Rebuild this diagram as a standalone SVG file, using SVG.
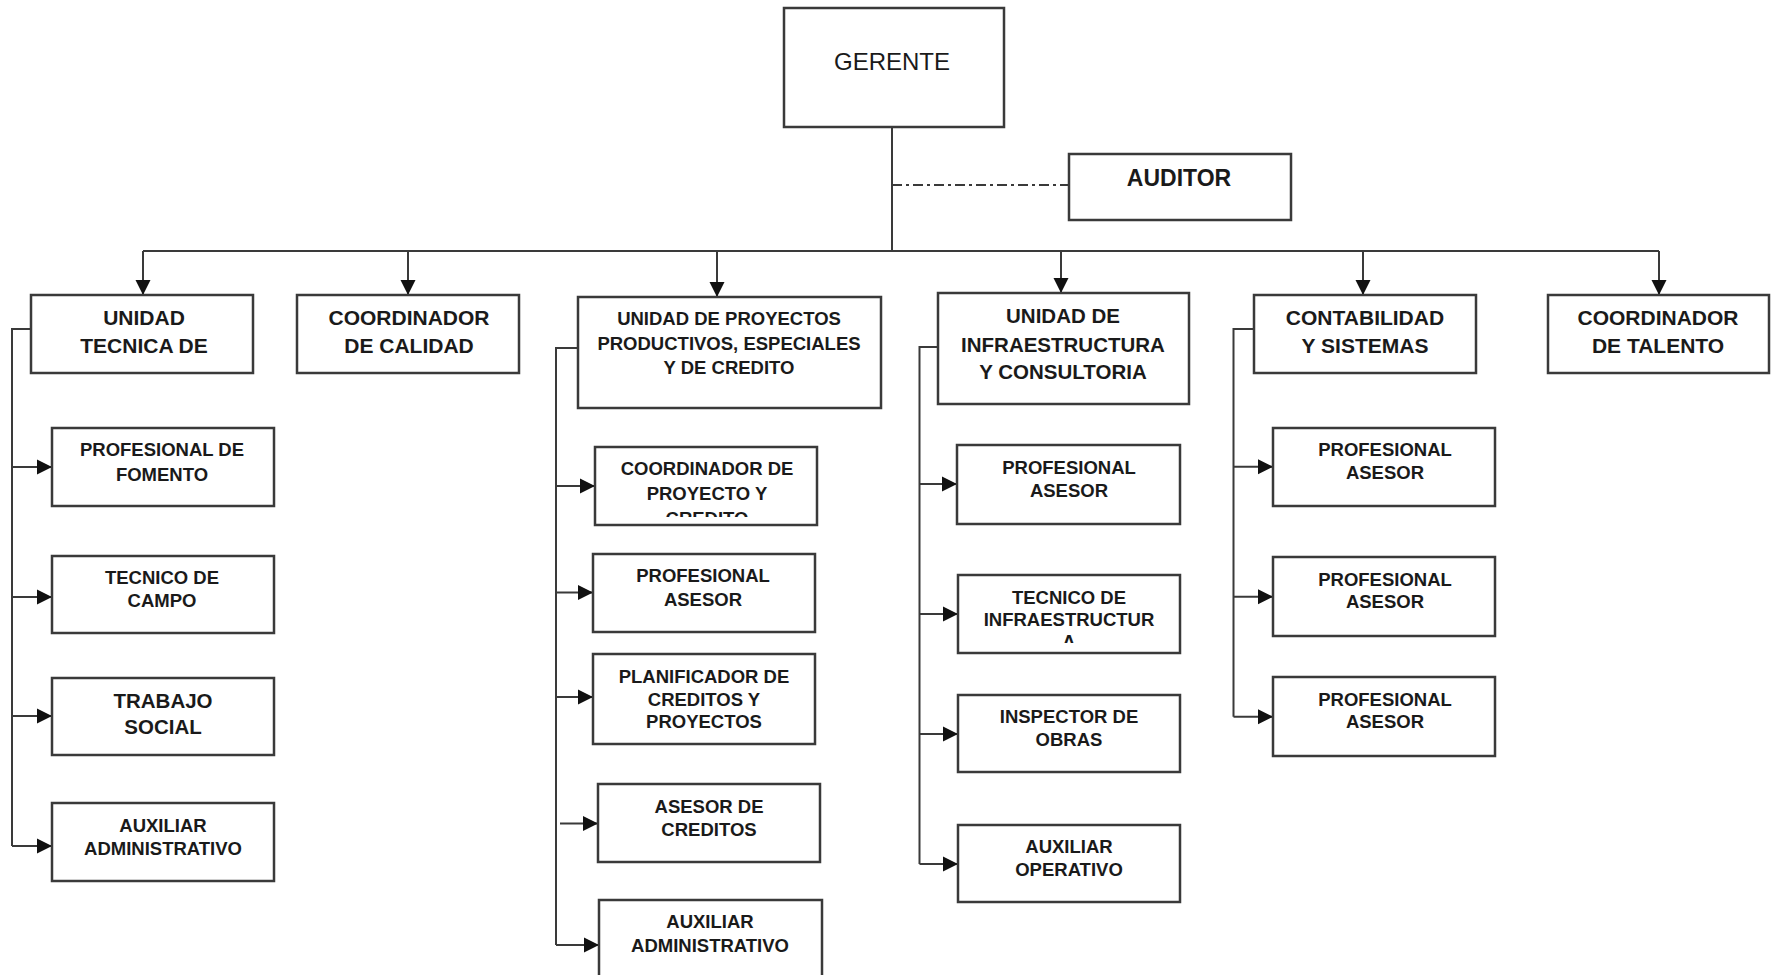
<svg xmlns="http://www.w3.org/2000/svg" width="1771" height="975" viewBox="0 0 1771 975">
<style>
.box{fill:#fff;stroke:#3a3a3a;stroke-width:2.5}
.ln{fill:none;stroke:#3a3a3a;stroke-width:2}
.t{font-family:"Liberation Sans",Arial,sans-serif;font-weight:bold;fill:#1a1a1a;text-anchor:middle}
.c{font-size:18.5px}
.top{font-size:21px}
</style>
<defs>
<marker id="ah" markerUnits="userSpaceOnUse" viewBox="0 0 15 16" refX="15" refY="8" markerWidth="15" markerHeight="16" orient="auto">
<path d="M0,0.5 L15,8 L0,15.5 z" fill="#111"/>
</marker>
<clipPath id="clipCoord"><rect x="595" y="447" width="222" height="70"/></clipPath>
<clipPath id="clipTec"><rect x="958" y="575" width="222" height="68"/></clipPath>
</defs>
<rect width="1771" height="975" fill="#fff"/>
<g id="connectors">
<path class="ln" d="M892,127 V251"/>
<path class="ln" d="M143,251 H1659"/>
<path class="ln" d="M892,185 H1069" stroke-dasharray="10 4 3 4"/>
<path class="ln" d="M143,251 V295" marker-end="url(#ah)"/>
<path class="ln" d="M408,251 V295" marker-end="url(#ah)"/>
<path class="ln" d="M717,251 V297" marker-end="url(#ah)"/>
<path class="ln" d="M1061,251 V293" marker-end="url(#ah)"/>
<path class="ln" d="M1363,251 V295" marker-end="url(#ah)"/>
<path class="ln" d="M1659,251 V295" marker-end="url(#ah)"/>
<path class="ln" d="M31,329 H12 V846"/>
<path class="ln" d="M12,467 H52" marker-end="url(#ah)"/>
<path class="ln" d="M12,597 H52" marker-end="url(#ah)"/>
<path class="ln" d="M12,716 H52" marker-end="url(#ah)"/>
<path class="ln" d="M12,846 H52" marker-end="url(#ah)"/>
<path class="ln" d="M578,348 H556 V945"/>
<path class="ln" d="M556,486 H595" marker-end="url(#ah)"/>
<path class="ln" d="M556,592.5 H593" marker-end="url(#ah)"/>
<path class="ln" d="M556,697 H593" marker-end="url(#ah)"/>
<path class="ln" d="M560,823.5 H598" marker-end="url(#ah)"/>
<path class="ln" d="M556,945 H599" marker-end="url(#ah)"/>
<path class="ln" d="M938,347 H919.5 V864"/>
<path class="ln" d="M919.5,484 H957" marker-end="url(#ah)"/>
<path class="ln" d="M919.5,614 H958" marker-end="url(#ah)"/>
<path class="ln" d="M919.5,734 H958" marker-end="url(#ah)"/>
<path class="ln" d="M919.5,864 H958" marker-end="url(#ah)"/>
<path class="ln" d="M1254,329 H1233.5 V716.7"/>
<path class="ln" d="M1233.5,466.7 H1273" marker-end="url(#ah)"/>
<path class="ln" d="M1233.5,596.7 H1273" marker-end="url(#ah)"/>
<path class="ln" d="M1233.5,716.7 H1273" marker-end="url(#ah)"/>
</g>
<g id="gerente"><rect class="box" x="784" y="8" width="220" height="119"/><text x="892" y="70" font-family="Liberation Sans,Arial,sans-serif" font-size="24" fill="#1a1a1a" text-anchor="middle">GERENTE</text></g>
<g id="auditor"><rect class="box" x="1069" y="154" width="222" height="66"/><text class="t" x="1179" y="186" font-size="23">AUDITOR</text></g>
<g id="unidad-tecnica"><rect class="box" x="31" y="295" width="222" height="78"/><text class="t top" x="144" y="325">UNIDAD</text><text class="t top" x="144" y="353">TECNICA DE</text></g>
<g id="coord-calidad"><rect class="box" x="297" y="295" width="222" height="78"/><text class="t top" x="409" y="325">COORDINADOR</text><text class="t top" x="409" y="353">DE CALIDAD</text></g>
<g id="unidad-proyectos"><rect class="box" x="578" y="297" width="303" height="111"/><text class="t c" x="729" y="325">UNIDAD DE PROYECTOS</text><text class="t c" x="729" y="350">PRODUCTIVOS, ESPECIALES</text><text class="t c" x="729" y="374">Y DE CREDITO</text></g>
<g id="unidad-infra"><rect class="box" x="938" y="293" width="251" height="111"/><text class="t" font-size="20.5" x="1063" y="323">UNIDAD DE</text><text class="t" font-size="20.5" x="1063" y="351.5">INFRAESTRUCTURA</text><text class="t" font-size="20.5" x="1063" y="379">Y CONSULTORIA</text></g>
<g id="contabilidad"><rect class="box" x="1254" y="295" width="222" height="78"/><text class="t top" x="1365" y="325">CONTABILIDAD</text><text class="t top" x="1365" y="353">Y SISTEMAS</text></g>
<g id="coord-talento"><rect class="box" x="1548" y="295" width="221" height="78"/><text class="t top" x="1658" y="325">COORDINADOR</text><text class="t top" x="1658" y="353">DE TALENTO</text></g>
<g id="prof-fomento"><rect class="box" x="52" y="428" width="222" height="78"/><text class="t c" x="162" y="456">PROFESIONAL DE</text><text class="t c" x="162" y="480.5">FOMENTO</text></g>
<g id="tecnico-campo"><rect class="box" x="52" y="556" width="222" height="77"/><text class="t c" x="162" y="583.5">TECNICO DE</text><text class="t c" x="162" y="607">CAMPO</text></g>
<g id="trabajo-social"><rect class="box" x="52" y="678" width="222" height="77"/><text class="t" font-size="20.5" x="163" y="708">TRABAJO</text><text class="t" font-size="20.5" x="163" y="733.5">SOCIAL</text></g>
<g id="aux-admin-1"><rect class="box" x="52" y="803" width="222" height="78"/><text class="t c" x="163" y="832">AUXILIAR</text><text class="t c" x="163" y="855">ADMINISTRATIVO</text></g>
<g id="coord-proyecto"><rect class="box" x="595" y="447" width="222" height="78"/><g clip-path="url(#clipCoord)"><text class="t c" x="707" y="475">COORDINADOR DE</text><text class="t c" x="707" y="500">PROYECTO Y</text><text class="t c" x="707" y="525">CREDITO</text></g></g>
<g id="prof-asesor-p"><rect class="box" x="593" y="554" width="222" height="78"/><text class="t c" x="703" y="582">PROFESIONAL</text><text class="t c" x="703" y="605.5">ASESOR</text></g>
<g id="planificador"><rect class="box" x="593" y="654" width="222" height="90"/><text class="t c" x="704" y="682.5">PLANIFICADOR DE</text><text class="t c" x="704" y="706">CREDITOS Y</text><text class="t c" x="704" y="728">PROYECTOS</text></g>
<g id="asesor-creditos"><rect class="box" x="598" y="784" width="222" height="78"/><text class="t c" x="709" y="812.5">ASESOR DE</text><text class="t c" x="709" y="835.5">CREDITOS</text></g>
<g id="aux-admin-2"><rect class="box" x="599" y="900" width="223" height="90"/><text class="t c" x="710" y="928">AUXILIAR</text><text class="t c" x="710" y="952">ADMINISTRATIVO</text></g>
<g id="prof-asesor-i"><rect class="box" x="957" y="445" width="223" height="79"/><text class="t c" x="1069" y="473.5">PROFESIONAL</text><text class="t c" x="1069" y="496.5">ASESOR</text></g>
<g id="tecnico-infra"><rect class="box" x="958" y="575" width="222" height="78"/><g clip-path="url(#clipTec)"><text class="t c" x="1069" y="603.5">TECNICO DE</text><text class="t c" x="1069" y="625.5">INFRAESTRUCTUR</text><text class="t c" x="1069" y="648">A</text></g></g>
<g id="inspector"><rect class="box" x="958" y="695" width="222" height="77"/><text class="t c" x="1069" y="722.7">INSPECTOR DE</text><text class="t c" x="1069" y="746">OBRAS</text></g>
<g id="aux-operativo"><rect class="box" x="958" y="825" width="222" height="77"/><text class="t c" x="1069" y="853">AUXILIAR</text><text class="t c" x="1069" y="876">OPERATIVO</text></g>
<g id="prof-asesor-c1"><rect class="box" x="1273" y="428" width="222" height="78"/><text class="t c" x="1385" y="456">PROFESIONAL</text><text class="t c" x="1385" y="479">ASESOR</text></g>
<g id="prof-asesor-c2"><rect class="box" x="1273" y="557" width="222" height="79"/><text class="t c" x="1385" y="586">PROFESIONAL</text><text class="t c" x="1385" y="608.3">ASESOR</text></g>
<g id="prof-asesor-c3"><rect class="box" x="1273" y="677" width="222" height="79"/><text class="t c" x="1385" y="705.7">PROFESIONAL</text><text class="t c" x="1385" y="728">ASESOR</text></g>
</svg>
